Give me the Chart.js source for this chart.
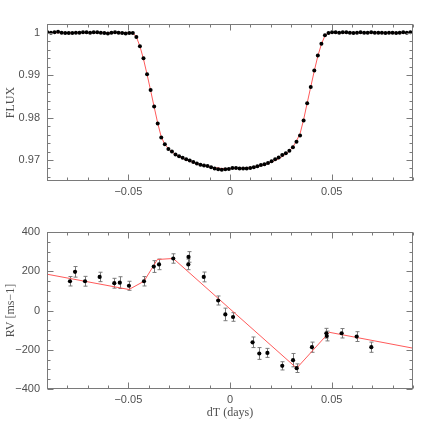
<!DOCTYPE html>
<html>
<head>
<meta charset="utf-8">
<script src="https://cdn.jsdelivr.net/npm/chart.js@4.4.1/dist/chart.umd.min.js"></script>
<style>
html,body{margin:0;padding:0;background:#fff;}
#wrap{position:relative;width:436px;height:436px;}
canvas{position:absolute;left:0;}
#lc{top:0;}
#rv{top:208px;}
</style>
</head>
<body>
<div id="wrap">
<canvas id="lc" width="436" height="208"></canvas>
<canvas id="rv" width="436" height="228"></canvas>
</div>
<script>
// light curve (dT in days, relative flux)
const lcTime = [
-0.0898,-0.08805,-0.0863,-0.08455,-0.0828,-0.08105,-0.0793,-0.07755,-0.0758,-0.07405,
-0.0723,-0.07055,-0.0688,-0.06705,-0.0653,-0.06355,-0.0618,-0.06005,-0.0583,-0.05655,
-0.0548,-0.05305,-0.0513,-0.04955,
-0.0478,-0.04605,-0.0443,-0.04255,-0.0408,-0.03905,-0.0373,-0.03555,-0.0338,-0.03205,
-0.0303,-0.02855,-0.0268,-0.02505,-0.0233,-0.02155,-0.0198,-0.01805,-0.0163,-0.01455,
-0.0128,-0.01105,-0.0093,-0.00755,-0.0058,-0.00405,-0.0023,-0.00055,0.0012,0.00295,
0.0047,0.00645,0.0082,0.00995,0.0117,0.01345,0.0152,0.01695,0.0187,0.02045,
0.0222,0.02395,0.0257,0.02745,0.0292,0.03095,0.0327,0.03445,0.0362,0.03795,
0.0397,0.04145,0.0432,0.04495,0.0467,0.04845,
0.0502,0.05195,0.0537,0.05545,0.0572,0.05895,0.0607,0.06245,0.0642,0.06595,
0.0677,0.06945,0.0712,0.07295,0.0747,0.07645,0.0782,0.07995,0.0817,0.08345,
0.0852,0.08695,0.0887
];
const lcFlux = [
1.0001,1.0000,1.0001,1.0002,1.0000,0.9999,0.9999,0.9999,1.0000,1.0000,
1.0001,1.0001,1.0000,1.0001,1.0001,1.0000,0.9999,0.9998,1.0000,1.0001,
1.0000,0.9999,0.9998,0.9999,
0.9999,0.9990,0.9968,0.9940,0.9902,0.9865,0.9826,0.9786,0.9753,0.9737,
0.9726,0.9720,0.9713,0.9709,0.9705,0.9702,0.9699,0.9695,0.9692,0.9689,
0.9687,0.9686,0.9683,0.9680,0.9678,0.9677,0.9678,0.9679,0.9681,0.9681,
0.9680,0.9680,0.9680,0.9681,0.9683,0.9685,0.9688,0.9690,0.9693,0.9697,
0.9702,0.9706,0.9712,0.9716,0.9722,0.9730,0.9743,0.9758,0.9793,0.9834,
0.9872,0.9911,0.9946,0.9974,0.9994,0.9999,
1.0001,1.0001,1.0000,1.0001,1.0001,1.0000,0.9999,1.0000,1.0001,1.0000,
1.0000,1.0001,1.0000,1.0000,1.0000,0.9999,1.0000,1.0000,0.9999,1.0000,
1.0001,1.0000,1.0001
];
const lcModel = [
1,1,1,1,1,1,1,1,1,1,
1,1,1,1,1,1,1,1,1,1,
1,1,1,1,
1.0000,0.9990,0.9968,0.9938,0.9902,0.9864,0.9825,0.9787,0.9754,0.9737,
0.9727,0.9719,0.9713,0.9708,0.9704,0.9700,0.9697,0.9694,0.9691,0.9689,
0.9687,0.9685,0.9683,0.9682,0.9681,0.9680,0.9680,0.9680,0.9680,0.9680,
0.9680,0.9681,0.9681,0.9682,0.9683,0.9685,0.9687,0.9689,0.9692,0.9695,
0.9699,0.9703,0.9708,0.9714,0.9721,0.9731,0.9745,0.9762,0.9795,0.9834,
0.9872,0.9910,0.9945,0.9973,0.9993,1.0000,
1,1,1,1,1,1,1,1,1,1,
1,1,1,1,1,1,1,1,1,1,
1,1,1
];

// radial velocities (m/s)
const rvTime = [-0.0787,-0.0762,-0.0713,-0.0641,-0.0569,-0.0542,-0.0497,-0.0423,-0.0375,-0.0349,
-0.0279,-0.0205,-0.0204,-0.0129,-0.0058,-0.0023,0.0015,0.0111,0.0144,0.0184,
0.0257,0.0310,0.0328,0.0403,0.0474,0.0476,0.0549,0.0623,0.0695];
const rvVel = [149,197,149,171,139,142,126,149,224,235,
265,235,273,171,51,-20,-33,-162,-219,-216,
-282,-253,-294,-187,-116,-130,-116,-133,-187];
const rvErr = [24,27,25,24,25,30,23,24,30,27,
24,27,27,25,23,32,22,27,30,23,
21,34,22,26,25,25,24,25,26];
const rvModelTime = [-0.09,-0.0497,-0.0423,-0.0357,-0.0279,0.0328,0.0488,0.09];
const rvModelVel = [185,107,149,260,265,-294,-111,-192];

const xTicks = [-0.05,0,0.05];
const xTickLabels = ['\u22120.05','0','0.05'];
const fluxTicks = [0.97,0.98,0.99,1];
const fluxTickLabels = ['0.97','0.98','0.99','1'];
const rvTicks = [-400,-200,0,200,400];
const rvTickLabels = ['\u2212400','\u2212200','0','200','400'];

const TICK_FONT = {family:'Liberation Sans', size:11};
const TITLE_FONT = {family:'Liberation Serif', size:12};
const TEXT_COLOR = '#505050';
const FRAME_COLOR = '#7a7a7a';
const LINE_RED = '#ff5a5a';

// frame + inward major/minor ticks on all four sides
const frameTicks = {
  id:'frameTicks',
  afterDraw(chart, args, opts){
    const {ctx, chartArea:a, scales:{x,y}} = chart;
    const L = Math.round(a.left)+0.5, R = Math.round(a.right)-0.5;
    const T = Math.round(a.top)+0.5, B = Math.round(a.bottom)-0.5;
    ctx.save();
    ctx.strokeStyle = FRAME_COLOR;
    ctx.lineWidth = 1;
    ctx.strokeRect(L, T, R-L, B-T);
    ctx.beginPath();
    const mark = (scale, step, majors, horiz) => {
      const lo = Math.ceil(scale.min/step - 1e-6), hi = Math.floor(scale.max/step + 1e-6);
      for(let i=lo;i<=hi;i++){
        const v = i*step;
        const major = majors.some(m=>Math.abs(m-v) < step*0.01);
        const len = major ? 6 : 3;
        const p = Math.round(scale.getPixelForValue(v))+0.5;
        if(horiz){
          ctx.moveTo(p,B); ctx.lineTo(p,B-len);
          ctx.moveTo(p,T); ctx.lineTo(p,T+len);
        }else{
          ctx.moveTo(L,p); ctx.lineTo(L+len,p);
          ctx.moveTo(R,p); ctx.lineTo(R-len,p);
        }
      }
    };
    mark(x, opts.xMinor, opts.xMajor, true);
    mark(y, opts.yMinor, opts.yMajor, false);
    ctx.stroke();
    ctx.restore();
  }
};

// vertical error bars with small caps
const errorBars = {
  id:'errorBars',
  beforeDatasetsDraw(chart, args, opts){
    if(!opts.err) return;
    const {ctx, scales:{x,y}} = chart;
    ctx.save();
    ctx.strokeStyle = '#7a7a7a';
    ctx.lineWidth = 1;
    ctx.beginPath();
    opts.t.forEach((t,i)=>{
      const px = Math.round(x.getPixelForValue(t))+0.5;
      const y1 = y.getPixelForValue(opts.v[i]-opts.err[i]);
      const y2 = y.getPixelForValue(opts.v[i]+opts.err[i]);
      ctx.moveTo(px,y1); ctx.lineTo(px,y2);
      ctx.moveTo(px-2,y1); ctx.lineTo(px+2,y1);
      ctx.moveTo(px-2,y2); ctx.lineTo(px+2,y2);
    });
    ctx.stroke();
    ctx.restore();
  }
};

function xScale(showTitle, h){
  return {
    type:'linear', min:-0.09, max:0.09,
    afterBuildTicks: s => { s.ticks = xTicks.map(v=>({value:v})); },
    afterFit: s => { s.height = h; },
    ticks:{callback:v=>xTickLabels[xTicks.indexOf(v)], font:TICK_FONT, color:TEXT_COLOR, padding:4, maxRotation:0, autoSkip:false},
    grid:{display:false, drawTicks:false},
    border:{display:false},
    title:{display:showTitle, text:'dT (days)', font:TITLE_FONT, color:TEXT_COLOR, padding:{top:0,bottom:16}}
  };
}

function yScale(min, max, ticks, labels, title){
  return {
    type:'linear', min:min, max:max,
    afterBuildTicks: s => { s.ticks = ticks.map(v=>({value:v})); },
    afterFit: s => { s.width = 47; },
    ticks:{callback:v=>labels[ticks.indexOf(v)], font:TICK_FONT, color:TEXT_COLOR, padding:7, autoSkip:false},
    grid:{display:false, drawTicks:false},
    border:{display:false},
    title:{display:true, text:title, font:TITLE_FONT, color:TEXT_COLOR, padding:{top:4,bottom:0}}
  };
}

Chart.defaults.animation = false;

// points listed first so they are drawn over the model line
new Chart(document.getElementById('lc'), {
  type:'scatter',
  data:{
    datasets:[
      {data:lcTime.map((t,i)=>({x:t,y:lcFlux[i]})), pointRadius:2, pointBackgroundColor:'#000', pointBorderWidth:0},
      {data:lcTime.map((t,i)=>({x:t,y:lcModel[i]})), showLine:true, borderColor:LINE_RED, borderWidth:1, pointRadius:0}
    ]
  },
  options:{
    responsive:false, devicePixelRatio:1, events:[],
    layout:{padding:{top:24,right:23,left:0,bottom:0}},
    plugins:{legend:{display:false}, tooltip:{enabled:false},
      frameTicks:{xMinor:0.01, xMajor:xTicks, yMinor:0.002, yMajor:fluxTicks}},
    scales:{
      x:xScale(false, 27),
      y:yScale(0.96505, 1.00205, fluxTicks, fluxTickLabels, 'FLUX')
    }
  },
  plugins:[frameTicks]
});

new Chart(document.getElementById('rv'), {
  type:'scatter',
  data:{
    datasets:[
      {data:rvTime.map((t,i)=>({x:t,y:rvVel[i]})), pointRadius:2.1, pointBackgroundColor:'#000', pointBorderWidth:0},
      {data:rvModelTime.map((t,i)=>({x:t,y:rvModelVel[i]})), showLine:true, borderColor:LINE_RED, borderWidth:1, pointRadius:0}
    ]
  },
  options:{
    responsive:false, devicePixelRatio:1, events:[],
    layout:{padding:{top:24,right:23,left:0,bottom:0}},
    plugins:{legend:{display:false}, tooltip:{enabled:false},
      frameTicks:{xMinor:0.01, xMajor:xTicks, yMinor:50, yMajor:rvTicks},
      errorBars:{t:rvTime, v:rvVel, err:rvErr}},
    scales:{
      x:xScale(true, 47),
      y:yScale(-400, 400, rvTicks, rvTickLabels, 'RV [ms\u22121]')
    }
  },
  plugins:[errorBars, frameTicks]
});
</script>
</body>
</html>
